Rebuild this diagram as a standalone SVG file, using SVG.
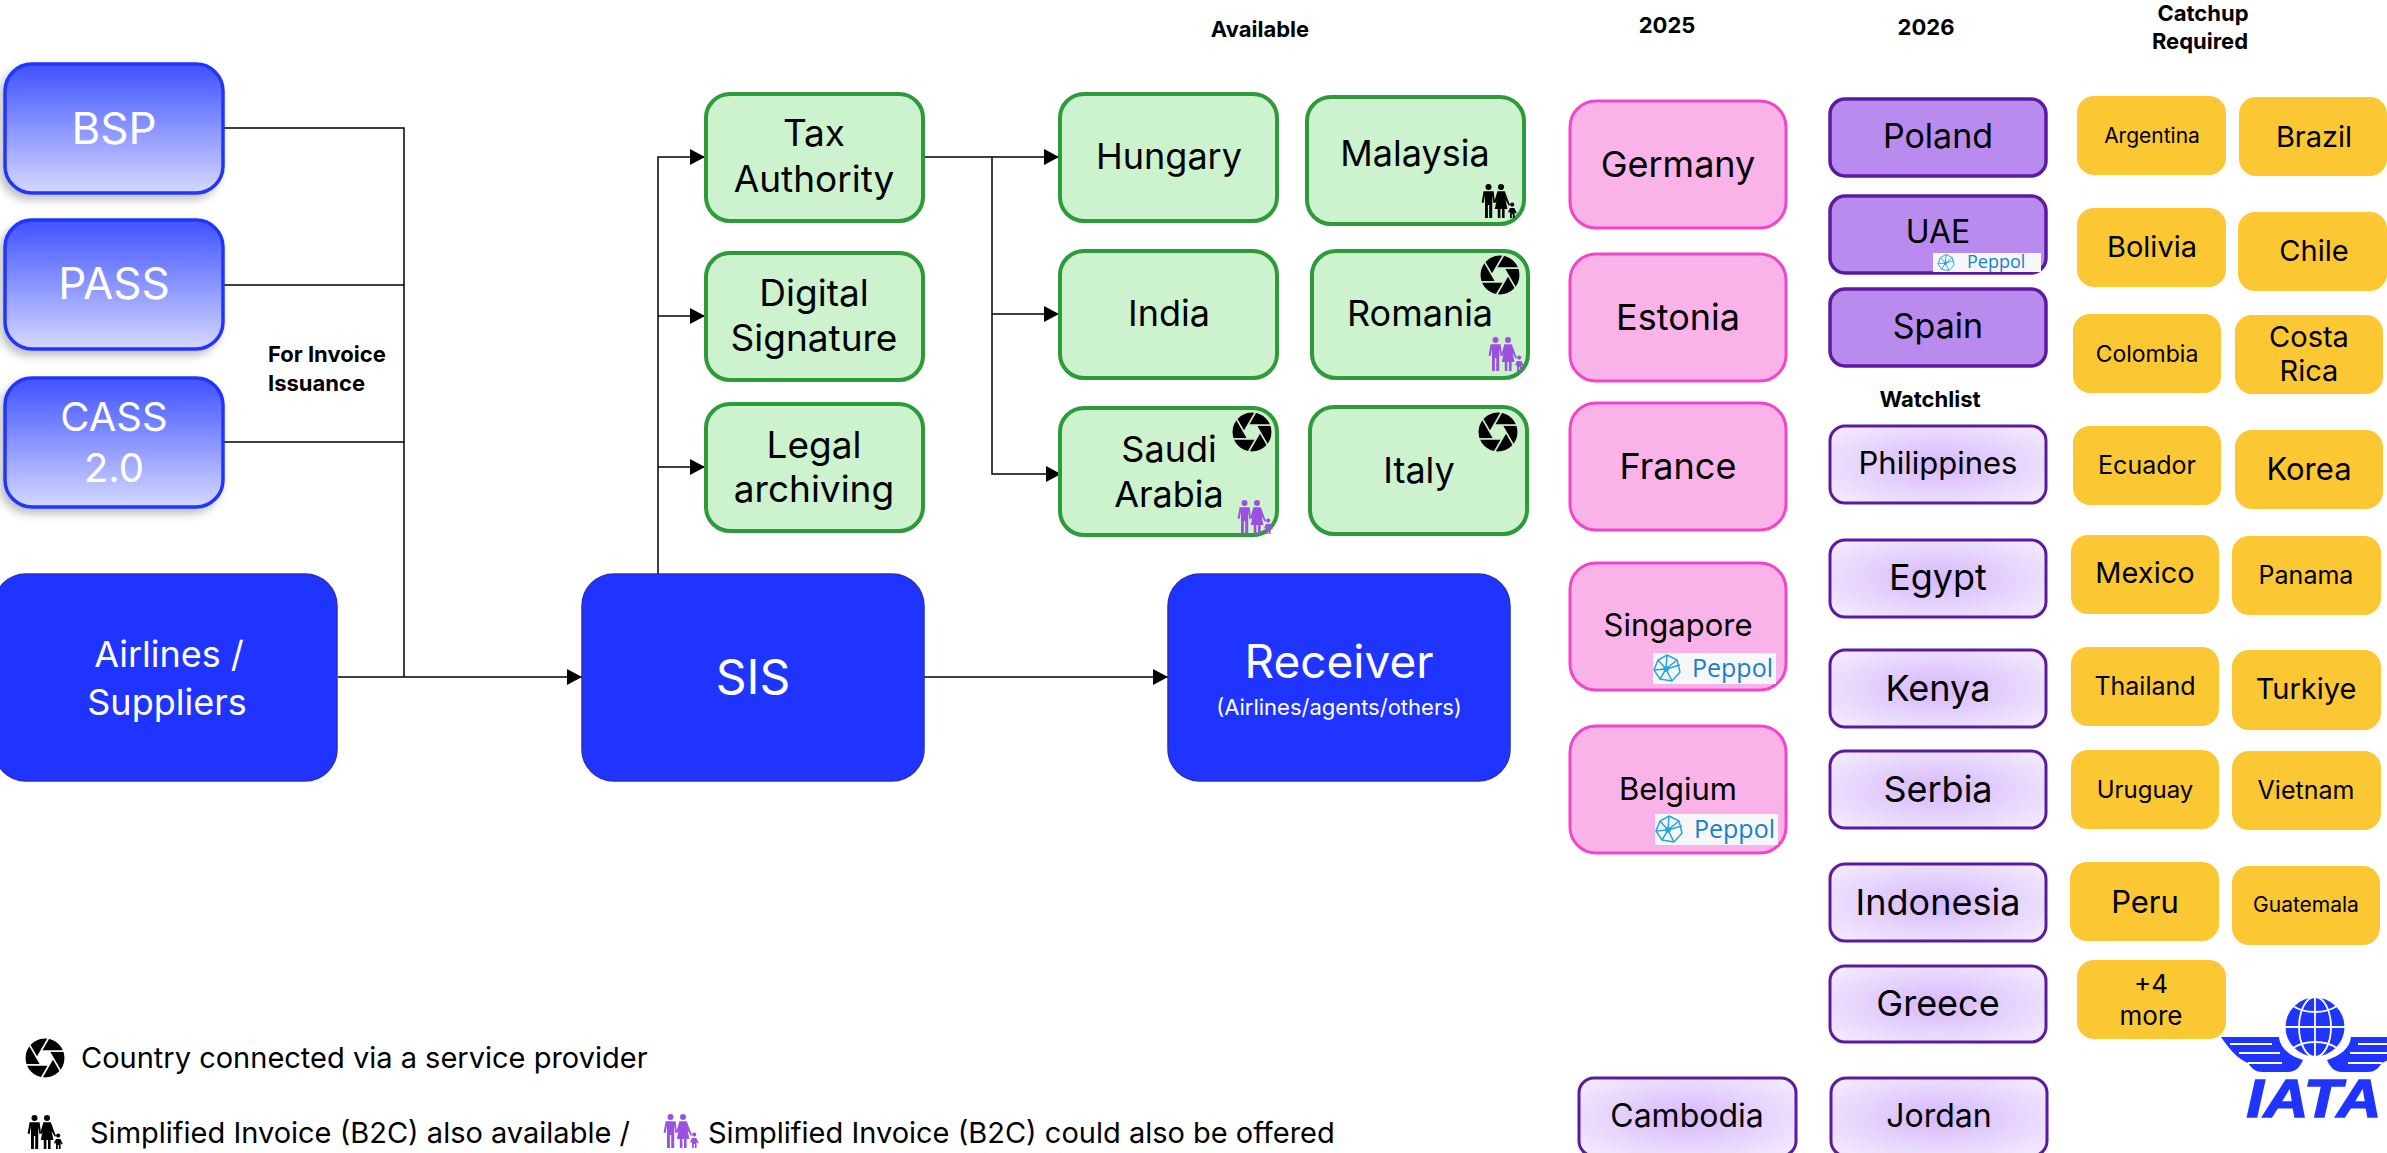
<svg xmlns="http://www.w3.org/2000/svg" xmlns:xlink="http://www.w3.org/1999/xlink" width="2387" height="1153" viewBox="0 0 2387 1153">
<style>
text{font-family:Inter,"Liberation Sans",sans-serif;text-anchor:middle;fill:#000}
.w{fill:#fff}
.h{font-weight:700;font-size:22px}
.l{text-anchor:start}
.grad{fill:url(#gBlue);stroke:#2036ff;stroke-width:3.5}
.big{fill:#1f35ff;stroke:#2a2fc0;stroke-width:1.5}
.green{fill:#cdf2ce;stroke:#2e9a3a;stroke-width:4}
.pink{fill:#f9b3e8;stroke:#f245c8;stroke-width:3}
.purple{fill:#b98bee;stroke:#5b1aa0;stroke-width:3.5}
.watch{fill:url(#gWatch);stroke:#5b1aa0;stroke-width:3}
.yellow{fill:#fbc733}
.wire{fill:none;stroke:#000;stroke-width:1.5}
.pep{font-family:"Open Sans","Liberation Sans",sans-serif;fill:#1a7fcb;text-anchor:start}
.net{fill:none;stroke:#2aa3dc;stroke-width:1.5}
</style>
<defs>
<linearGradient id="gBlue" x1="0" y1="0" x2="0" y2="1"><stop offset="0.05" stop-color="#4659ff"/><stop offset="1" stop-color="#d5d8ff"/></linearGradient>
<radialGradient id="gWatch" cx="0.5" cy="0.5" r="0.62"><stop offset="0" stop-color="#d6b8fc"/><stop offset="1" stop-color="#f1e8fe"/></radialGradient>
<filter id="sh" x="-10%" y="-10%" width="120%" height="125%"><feDropShadow dx="-4" dy="5" stdDeviation="4" flood-color="#000" flood-opacity="0.25"/></filter>
<marker id="arr" markerUnits="userSpaceOnUse" markerWidth="16" markerHeight="18" refX="15" refY="8" orient="auto"><path d="M0 0L15 8L0 16z" fill="#000"/></marker>
<mask id="apm" maskUnits="userSpaceOnUse" x="-21" y="-21" width="42" height="42">
<circle r="19.5" fill="#fff"/>
<polygon points="8,0 4,6.9 -4,6.9 -8,0 -4,-6.9 4,-6.9" fill="#000"/>
<g stroke="#000" stroke-width="1.7">
<line x1="-4" y1="-6.9" x2="22" y2="-6.9"/>
<line x1="-4" y1="-6.9" x2="22" y2="-6.9" transform="rotate(60)"/>
<line x1="-4" y1="-6.9" x2="22" y2="-6.9" transform="rotate(120)"/>
<line x1="-4" y1="-6.9" x2="22" y2="-6.9" transform="rotate(180)"/>
<line x1="-4" y1="-6.9" x2="22" y2="-6.9" transform="rotate(240)"/>
<line x1="-4" y1="-6.9" x2="22" y2="-6.9" transform="rotate(300)"/>
</g>
</mask>
<g id="ap"><circle r="20" fill="#000" mask="url(#apm)"/></g>
<g id="fam">
<circle cx="7.5" cy="3" r="3"/>
<path d="M2.6 7.2H12.6L14 18.5 12.4 19 11.3 11.5 11.2 34H8.2V21H6.9V34H4V11.5L2.6 19 0.6 18.5z"/>
<circle cx="20" cy="3" r="3"/>
<path d="M16.4 7.2H23.8L26.8 15.5 29 21 27.8 21.8 24.6 16 26.4 25H23.6V34H21V25H19.4V34H16.8V25H13.8L15.6 16 14.6 19 13.2 18z"/>
<circle cx="31.2" cy="20.6" r="2.1"/>
<path d="M29 24H33.4L35.8 29 34.6 29.6 33.6 27.4V34H31.8V30H30.8V34H29V27.5L28.2 28.8 27 28z"/>
</g>
<g id="net" class="net">
<path d="M0 -13L10 -8 13 4 5 13 -7 11 -13 2 -9 -8z"/>
<path d="M0 -13L-1 1 5 13M-13 2L-1 1 13 -3M-7 11L-1 1 10 -8M-9 -8L-1 1"/>
<circle cx="-1" cy="1" r="2" fill="#2aa3dc"/>
</g>
<path id="wing" d="M2221 1037H2279C2280 1048 2290 1056 2303 1060 2300 1067 2296 1072 2288 1072H2262C2256 1072 2252 1069 2248 1063 2238 1059 2230 1050 2221 1037z"/>
</defs>

<g id="connectors" class="wire">
<path d="M223 128H404V677"/>
<path d="M223 285H404"/>
<path d="M223 442H404"/>
<path d="M338 677H582" marker-end="url(#arr)"/>
<path d="M658 574V157H705" marker-end="url(#arr)"/>
<path d="M658 316H705" marker-end="url(#arr)"/>
<path d="M658 467H705" marker-end="url(#arr)"/>
<path d="M924 157H1059" marker-end="url(#arr)"/>
<path d="M992 157V474H1061" marker-end="url(#arr)"/>
<path d="M992 314H1059" marker-end="url(#arr)"/>
<path d="M924 677H1168" marker-end="url(#arr)"/>
</g>

<g id="n-bsp"><rect class="grad" filter="url(#sh)" x="5" y="64" width="218" height="129" rx="27"/><text class="w" x="114" y="144" font-size="44">BSP</text></g>
<g id="n-pass"><rect class="grad" filter="url(#sh)" x="5" y="220" width="218" height="129" rx="27"/><text class="w" x="114" y="299" font-size="44">PASS</text></g>
<g id="n-cass"><rect class="grad" filter="url(#sh)" x="5" y="378" width="218" height="129" rx="27"/><text class="w" x="114" y="431" font-size="40">CASS</text><text class="w" x="114" y="482" font-size="40">2.0</text></g>
<g id="n-for"><text class="h l" x="268" y="362">For Invoice</text><text class="h l" x="268" y="391">Issuance</text></g>
<g id="n-airlines"><rect class="big" x="-6" y="574" width="343" height="207" rx="32"/><text class="w" x="169" y="667" font-size="36">Airlines /</text><text class="w" x="167" y="715" font-size="36">Suppliers</text></g>
<g id="n-sis"><rect class="big" x="582" y="574" width="342" height="207" rx="32"/><text class="w" x="753" y="694" font-size="48">SIS</text></g>
<g id="n-receiver"><rect class="big" x="1168" y="574" width="342" height="207" rx="32"/><text class="w" x="1339" y="678" font-size="46">Receiver</text><text class="w" x="1339" y="715" font-size="22">(Airlines/agents/others)</text></g>

<g id="n-tax"><rect class="green" x="706" y="94" width="217" height="127" rx="24"/><text x="814" y="146" font-size="37">Tax</text><text x="814" y="192" font-size="37">Authority</text></g>
<g id="n-digital"><rect class="green" x="706" y="253" width="217" height="127" rx="24"/><text x="814" y="306" font-size="37">Digital</text><text x="814" y="351" font-size="37">Signature</text></g>
<g id="n-legal"><rect class="green" x="706" y="404" width="217" height="127" rx="24"/><text x="814" y="458" font-size="37">Legal</text><text x="814" y="502" font-size="37">archiving</text></g>

<g id="n-hungary"><rect class="green" x="1060" y="94" width="217" height="127" rx="24"/><text x="1169" y="169" font-size="36">Hungary</text></g>
<g id="n-malaysia"><rect class="green" x="1307" y="97" width="217" height="127" rx="24"/><text x="1415" y="166" font-size="36">Malaysia</text><use href="#fam" x="1481" y="184"/></g>
<g id="n-india"><rect class="green" x="1060" y="251" width="217" height="127" rx="24"/><text x="1169" y="326" font-size="36">India</text></g>
<g id="n-romania"><rect class="green" x="1312" y="251" width="216" height="127" rx="24"/><text x="1420" y="326" font-size="36">Romania</text><use href="#ap" x="1500" y="275"/><use href="#fam" x="1488" y="337" fill="#9b51e0"/></g>
<g id="n-saudi"><rect class="green" x="1060" y="408" width="217" height="127" rx="24"/><text x="1169" y="462" font-size="36">Saudi</text><text x="1169" y="507" font-size="36">Arabia</text><use href="#ap" x="1252" y="432"/><use href="#fam" x="1237" y="500" fill="#9b51e0"/></g>
<g id="n-italy"><rect class="green" x="1310" y="407" width="217" height="127" rx="24"/><text x="1419" y="483" font-size="36">Italy</text><use href="#ap" x="1498" y="432"/></g>

<g id="n-available"><text class="h" x="1260" y="37">Available</text></g>
<g id="n-2025"><text class="h" x="1667" y="33">2025</text></g>
<g id="n-2026"><text class="h" x="1926" y="35">2026</text></g>
<g id="n-catchup"><text class="h" x="2203" y="21">Catchup</text><text class="h" x="2200" y="49">Required</text></g>
<g id="n-watchlist"><text class="h" x="1930" y="407">Watchlist</text></g>

<g id="n-germany"><rect class="pink" x="1570" y="101" width="216" height="127" rx="26"/><text x="1678" y="177" font-size="36">Germany</text></g>
<g id="n-estonia"><rect class="pink" x="1570" y="254" width="216" height="127" rx="26"/><text x="1678" y="330" font-size="36">Estonia</text></g>
<g id="n-france"><rect class="pink" x="1570" y="403" width="216" height="127" rx="26"/><text x="1678" y="479" font-size="36">France</text></g>
<g id="n-singapore"><rect class="pink" x="1570" y="563" width="216" height="127" rx="26"/><text x="1678" y="636" font-size="31">Singapore</text><rect x="1653" y="653" width="123" height="31" fill="#f5f7f8"/><use href="#net" x="1667" y="668"/><text class="pep" x="1692" y="677" font-size="25">Peppol</text></g>
<g id="n-belgium"><rect class="pink" x="1570" y="726" width="216" height="127" rx="26"/><text x="1678" y="800" font-size="31">Belgium</text><rect x="1655" y="814" width="123" height="31" fill="#f5f7f8"/><use href="#net" x="1669" y="829"/><text class="pep" x="1694" y="838" font-size="25">Peppol</text></g>

<g id="n-poland"><rect class="purple" x="1830" y="99" width="216" height="77" rx="15"/><text x="1938" y="148" font-size="34">Poland</text></g>
<g id="n-uae"><rect class="purple" x="1830" y="196" width="216" height="77" rx="15"/><text x="1938" y="243" font-size="32">UAE</text><rect x="1933" y="253" width="108" height="19" fill="#f5f7f8"/><use href="#net" transform="translate(1946 262.500) scale(0.62)"/><text class="pep" x="1967" y="268" font-size="18">Peppol</text></g>
<g id="n-spain"><rect class="purple" x="1830" y="289" width="216" height="77" rx="15"/><text x="1938" y="338" font-size="34">Spain</text></g>
<g id="n-philippines"><rect class="watch" x="1830" y="426" width="216" height="77" rx="15"/><text x="1938" y="474" font-size="31">Philippines</text></g>
<g id="n-egypt"><rect class="watch" x="1830" y="540" width="216" height="77" rx="15"/><text x="1938" y="590" font-size="36">Egypt</text></g>
<g id="n-kenya"><rect class="watch" x="1830" y="650" width="216" height="77" rx="15"/><text x="1938" y="701" font-size="36">Kenya</text></g>
<g id="n-serbia"><rect class="watch" x="1830" y="751" width="216" height="77" rx="15"/><text x="1938" y="802" font-size="36">Serbia</text></g>
<g id="n-indonesia"><rect class="watch" x="1830" y="864" width="216" height="77" rx="15"/><text x="1938" y="915" font-size="36">Indonesia</text></g>
<g id="n-greece"><rect class="watch" x="1830" y="966" width="216" height="76" rx="15"/><text x="1938" y="1016" font-size="36">Greece</text></g>
<g id="n-cambodia"><rect class="watch" x="1579" y="1078" width="217" height="78" rx="15"/><text x="1687" y="1127" font-size="32">Cambodia</text></g>
<g id="n-jordan"><rect class="watch" x="1831" y="1078" width="216" height="78" rx="15"/><text x="1939" y="1127" font-size="32">Jordan</text></g>

<g id="n-iata" fill="#1f35ff">
<circle cx="2315" cy="1027" r="29.500"/>
<g fill="none" stroke="#fff" stroke-width="1.800">
<path d="M2315 997V1057M2285 1027H2345"/>
<ellipse cx="2315" cy="1027" rx="16" ry="30"/>
<path d="M2293 1006C2305 1014 2325 1014 2337 1006M2293 1048C2305 1040 2325 1040 2337 1048"/>
</g>
<use href="#wing"/>
<use href="#wing" transform="matrix(-1 0 0 1 4630 0)"/>
<g stroke="#fff" stroke-width="1.800">
<path d="M2230 1044H2272M2239 1053H2280M2248 1063H2282M2400 1044H2358M2391 1053H2350M2382 1063H2348"/>
</g>
<text x="2314" y="1117" font-size="53" textLength="135" lengthAdjust="spacingAndGlyphs" style="font-family:'Liberation Sans',sans-serif;font-weight:700;font-style:italic;fill:#1f35ff;stroke:#1f35ff;stroke-width:1.5">IATA</text>
</g>

<g id="n-argentina"><rect class="yellow" x="2077" y="96" width="149" height="79" rx="17"/><text x="2152" y="143" font-size="21">Argentina</text></g>
<g id="n-brazil"><rect class="yellow" x="2239" y="97" width="148" height="79" rx="17"/><text x="2314" y="147" font-size="29">Brazil</text></g>
<g id="n-bolivia"><rect class="yellow" x="2077" y="208" width="149" height="79" rx="17"/><text x="2152" y="257" font-size="29">Bolivia</text></g>
<g id="n-chile"><rect class="yellow" x="2238" y="212" width="149" height="79" rx="17"/><text x="2314" y="261" font-size="29">Chile</text></g>
<g id="n-colombia"><rect class="yellow" x="2073" y="314" width="148" height="79" rx="17"/><text x="2147" y="362" font-size="23">Colombia</text></g>
<g id="n-costa"><rect class="yellow" x="2235" y="315" width="148" height="79" rx="17"/><text x="2309" y="347" font-size="29">Costa</text><text x="2309" y="381" font-size="29">Rica</text></g>
<g id="n-ecuador"><rect class="yellow" x="2073" y="426" width="148" height="79" rx="17"/><text x="2147" y="474" font-size="25">Ecuador</text></g>
<g id="n-korea"><rect class="yellow" x="2235" y="430" width="148" height="79" rx="17"/><text x="2309" y="480" font-size="31">Korea</text></g>
<g id="n-mexico"><rect class="yellow" x="2071" y="535" width="148" height="79" rx="17"/><text x="2145" y="583" font-size="29">Mexico</text></g>
<g id="n-panama"><rect class="yellow" x="2232" y="536" width="149" height="79" rx="17"/><text x="2306" y="584" font-size="25">Panama</text></g>
<g id="n-thailand"><rect class="yellow" x="2071" y="647" width="148" height="79" rx="17"/><text x="2145" y="695" font-size="25">Thailand</text></g>
<g id="n-turkiye"><rect class="yellow" x="2232" y="650" width="149" height="80" rx="17"/><text x="2306" y="699" font-size="29">Turkiye</text></g>
<g id="n-uruguay"><rect class="yellow" x="2071" y="750" width="148" height="79" rx="17"/><text x="2145" y="798" font-size="24">Uruguay</text></g>
<g id="n-vietnam"><rect class="yellow" x="2232" y="751" width="149" height="79" rx="17"/><text x="2306" y="799" font-size="25">Vietnam</text></g>
<g id="n-peru"><rect class="yellow" x="2070" y="862" width="149" height="79" rx="17"/><text x="2145" y="913" font-size="31">Peru</text></g>
<g id="n-guatemala"><rect class="yellow" x="2232" y="866" width="148" height="79" rx="17"/><text x="2306" y="912" font-size="21">Guatemala</text></g>
<g id="n-more"><rect class="yellow" x="2077" y="960" width="149" height="79" rx="17"/><text x="2151" y="993" font-size="26">+4</text><text x="2151" y="1025" font-size="26">more</text></g>

<g id="legend">
<use href="#ap" x="45" y="1058"/>
<text class="l" x="81" y="1068" font-size="29">Country connected via a service provider</text>
<use href="#fam" x="27" y="1115"/>
<text class="l" x="90" y="1143" font-size="29">Simplified Invoice (B2C) also available /</text>
<use href="#fam" x="663" y="1114" fill="#9b51e0"/>
<text class="l" x="708" y="1143" font-size="29">Simplified Invoice (B2C) could also be offered</text>
</g>
</svg>
